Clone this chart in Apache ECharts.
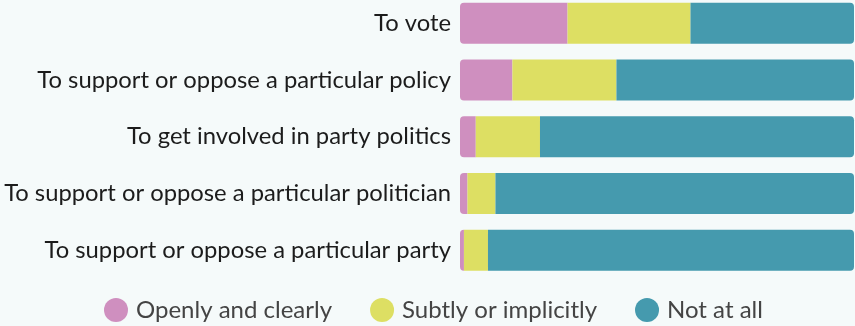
<!DOCTYPE html>
<html>
<head>
<meta charset="utf-8">
<script src="https://cdn.jsdelivr.net/npm/echarts@6/dist/echarts.min.js"></script>
<style>
  html, body { margin: 0; padding: 0; background: #f5fafa; overflow: hidden; }
  #chart { width: 855px; height: 331px; margin-top: -5px; }
</style>
</head>
<body>
<div id="chart"></div>
<script>
// Survey categories (top to bottom)
const categories = [
  'To vote',
  'To support or oppose a particular policy',
  'To get involved in party politics',
  'To support or oppose a particular politician',
  'To support or oppose a particular party'
];

// Shares of respondents, percent
const openly = [27.3, 13.3, 4.0, 1.9, 1.0];
const subtly = [31.2, 26.4, 16.3, 7.1, 6.1];
const notAtAll = [41.5, 60.3, 79.7, 91.0, 92.9];

const seriesNames = ['Openly and clearly', 'Subtly or implicitly', 'Not at all'];
const colors = ['#cf8fbf', '#dddf63', '#459aae'];

const chart = echarts.init(document.getElementById('chart'), null, { renderer: 'canvas' });

function barSeries(name, data, color, radius) {
  return {
    name: name,
    type: 'bar',
    stack: 'total',
    data: data,
    barWidth: 41,
    itemStyle: { color: color, borderRadius: radius },
    emphasis: { disabled: true },
    animation: false
  };
}

chart.setOption({
  backgroundColor: '#f5fafa',
  textStyle: { fontFamily: 'Lato, sans-serif' },
  grid: { left: 460, right: 1, top: 0, bottom: 47.5, containLabel: false },
  xAxis: {
    type: 'value', min: 0, max: 100,
    show: false
  },
  yAxis: {
    type: 'category',
    data: categories,
    inverse: true,
    axisLine: { show: false },
    axisTick: { show: false },
    axisLabel: { color: '#1c1c1c', fontSize: 23.8, margin: 9, fontFamily: 'Lato, sans-serif' }
  },
  legend: {
    top: 303,
    left: 104,
    icon: 'circle',
    itemWidth: 24,
    itemHeight: 24,
    itemGap: 38,
    padding: 0,
    textStyle: { color: '#444', fontSize: 24, fontFamily: 'Lato, sans-serif', padding: [0, 0, 0, 3] },
    data: seriesNames
  },
  series: [
    barSeries(seriesNames[0], openly, colors[0], [4, 0, 0, 4]),
    barSeries(seriesNames[1], subtly, colors[1], 0),
    barSeries(seriesNames[2], notAtAll, colors[2], [0, 4, 4, 0])
  ]
});
</script>
</body>
</html>
